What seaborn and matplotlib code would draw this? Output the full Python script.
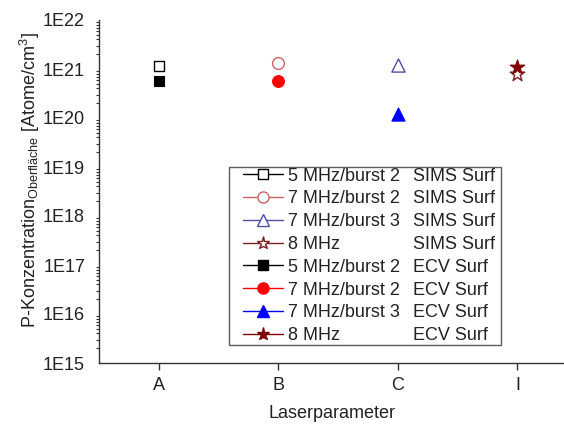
import matplotlib
matplotlib.use("Agg")
import matplotlib.pyplot as plt
import matplotlib.ticker as mticker
from matplotlib.lines import Line2D
from matplotlib.legend_handler import HandlerLine2D
import numpy as np
import pandas as pd
import seaborn as sns

# Laser parameter sets on the x axis
categories = ["A", "B", "C", "I"]

# Series labels (two legend columns)
series_names = ["5 MHz/burst 2", "7 MHz/burst 2", "7 MHz/burst 3", "8 MHz"]
methods = ["SIMS Surf", "ECV Surf"]

# Surface phosphorus concentration [atoms/cm^3]
sims_surf = [1.15e21, 1.35e21, 1.2e21, 7.9e20]
ecv_surf = [5.7e20, 5.8e20, 1.2e20, 1.1e21]

# y tick decades
y_exponents = [15, 16, 17, 18, 19, 20, 21, 22]

sns.set_theme(style="white")
plt.rcParams["font.family"] = ["Liberation Sans", "DejaVu Sans"]
plt.rcParams["mathtext.fontset"] = "custom"
plt.rcParams["mathtext.rm"] = "Liberation Sans"
plt.rcParams["mathtext.it"] = "Liberation Sans:italic"
plt.rcParams["mathtext.bf"] = "Liberation Sans:bold"

W, H = 564, 425
fig = plt.figure(figsize=(W / 100, H / 100), dpi=100)
ax = fig.add_axes([99 / W, (H - 363) / H, (W - 99) / W, (363 - 20) / H])

colors = ["#000000", "#ff0000", "#0000ff", "#800000"]
markers = ["s", "o", "^", "*"]
sizes = [62, 72, 90, 120]
legend_ms = [7, 8, 8.5, 9.5]
lighter = ["#000000", "#cc6464", "#4f4fa8", "#7a1f1f"]

rows = []
for i, name in enumerate(series_names):
    rows.append({"cat": i, "val": sims_surf[i], "series": name, "method": methods[0]})
    rows.append({"cat": i, "val": ecv_surf[i], "series": name, "method": methods[1]})
df = pd.DataFrame(rows)

for i, name in enumerate(series_names):
    sub = df[(df["series"] == name) & (df["method"] == methods[0])]
    sns.scatterplot(data=sub, x="cat", y="val", marker=markers[i], s=sizes[i],
                    facecolor="white", edgecolor=lighter[i], linewidth=1.0,
                    ax=ax, legend=False, zorder=3)
for i, name in enumerate(series_names):
    sub = df[(df["series"] == name) & (df["method"] == methods[1])]
    sns.scatterplot(data=sub, x="cat", y="val", marker=markers[i], s=sizes[i],
                    color=colors[i], edgecolor=colors[i], linewidth=0.8,
                    ax=ax, legend=False, zorder=4)

ax.set_yscale("log")
ax.set_ylim(10.0 ** y_exponents[0], 10.0 ** y_exponents[-1])
ax.set_yticks([10.0 ** e for e in y_exponents])
ax.yaxis.set_major_formatter(mticker.FuncFormatter(
    lambda v, p: "1E%d" % int(round(np.log10(v)))))
ax.yaxis.set_minor_locator(mticker.LogLocator(base=10, subs=np.arange(2, 10), numticks=100))
ax.yaxis.set_minor_formatter(mticker.NullFormatter())

ax.set_xlim(-0.502, (W - 159) / 119.5)
ax.set_xticks(range(len(categories)))
ax.set_xticklabels(categories)

for s in ["top", "right"]:
    ax.spines[s].set_visible(False)
for s in ["left", "bottom"]:
    ax.spines[s].set_color("#333333")
    ax.spines[s].set_linewidth(1.0)

ax.tick_params(axis="both", which="major", direction="out", length=5, width=1,
               color="#333333", labelsize=13, labelcolor="#222222")
ax.tick_params(axis="y", which="major", pad=5)
ax.tick_params(axis="x", which="major", pad=5, bottom=True)
ax.tick_params(axis="y", which="minor", direction="out", length=2.5, width=0.8,
               color="#333333", left=True)

ax.set_xlabel("Laserparameter", fontsize=13, color="#222222", labelpad=8)
ax.set_ylabel("")
fig.text(30 / W, 1 - 180 / H,
         r"P-Konzentration$_{\mathregular{Oberfläche}}$ [Atome/cm$^{\mathregular{3}}$]",
         rotation=90, ha="center", va="center", fontsize=13, color="#222222")

# Legend: first column with line+marker handles, second column text only
handles = []
labels = []
for m_i, meth in enumerate(methods):
    for i, name in enumerate(series_names):
        if m_i == 0:
            h = Line2D([], [], color=lighter[i], lw=1.0, marker=markers[i],
                       markersize=legend_ms[i], markerfacecolor="white",
                       markeredgecolor=lighter[i], markeredgewidth=1.0)
        else:
            h = Line2D([], [], color=colors[i], lw=1.0, marker=markers[i],
                       markersize=legend_ms[i], markerfacecolor=colors[i],
                       markeredgecolor=colors[i])
        handles.append(h)
        labels.append(name)
for m_i, meth in enumerate(methods):
    for i, name in enumerate(series_names):
        handles.append(Line2D([], [], lw=0, marker=None, color="none"))
        labels.append(meth + " ")

leg = ax.legend(handles, labels, ncol=2, loc="lower left",
                bbox_to_anchor=(229 / W, (H - 345) / H), bbox_transform=fig.transFigure,
                fontsize=13, frameon=True, fancybox=False, edgecolor="#333333",
                borderaxespad=0, handlelength=2.94, handletextpad=0.3,
                columnspacing=-2.56, labelspacing=0.32, borderpad=0.05,
                handler_map={Line2D: HandlerLine2D(xpad=0.72)})
leg.get_frame().set_linewidth(1.0)
for t in leg.get_texts():
    t.set_color("#222222")

fig.savefig("out.png", dpi=100)
